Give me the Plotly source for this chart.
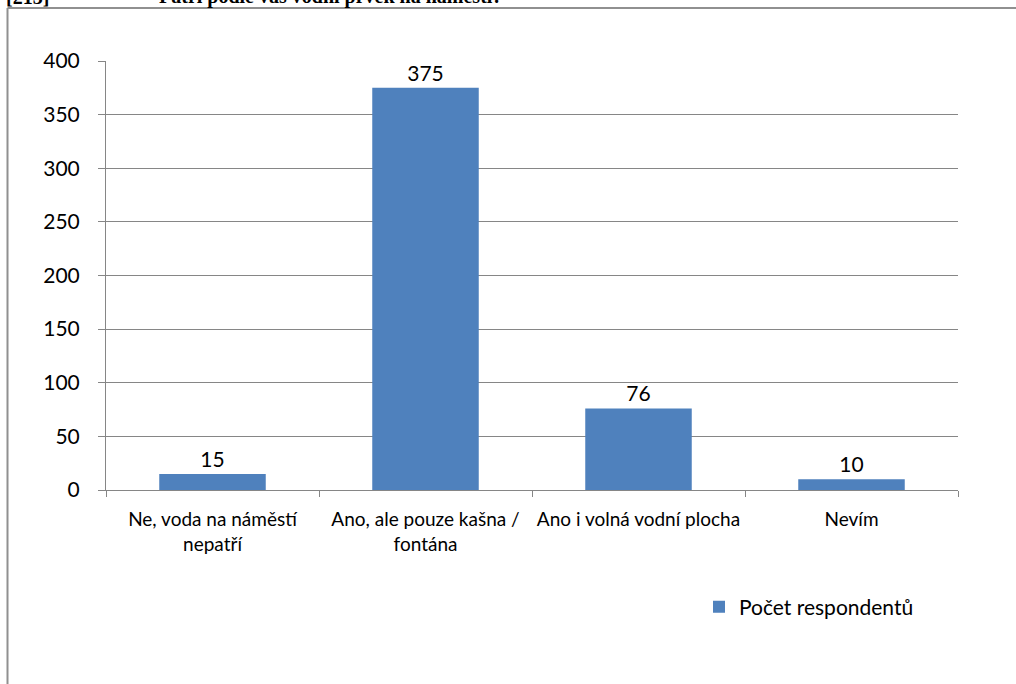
import plotly.graph_objects as go

categories = ["Ne, voda na náměstí nepatří", "Ano, ale pouze kašna / fontána",
              "Ano i volná vodní plocha", "Nevím"]
tick_labels = ["Ne, voda na náměstí<br>nepatří", "Ano, ale pouze kašna /<br>fontána",
               "Ano i volná vodní plocha", "Nevím"]
values = [15, 375, 76, 10]
series_name = "Počet respondentů"
y_ticks = [0, 50, 100, 150, 200, 250, 300, 350, 400]

W, H = 1016, 684
L, R, T, B = 106, 958, 61, 490


def px(x):
    return (x - L) / (R - L)


def py(y):
    return (B - y) / (B - T)


FONT = "Lato"
GRID = "#868686"

fig = go.Figure()
fig.add_trace(go.Bar(
    x=categories, y=values, name=series_name,
    marker=dict(color="#4F81BD", line=dict(width=0)),
    text=[str(v) for v in values], textposition="outside",
    textfont=dict(family=FONT, size=21, color="#000000"),
    cliponaxis=False, showlegend=True,
))

fig.update_layout(
    width=W, height=H,
    margin=dict(l=L, r=W - R, t=T, b=H - B, pad=0),
    paper_bgcolor="white", plot_bgcolor="white",
    bargap=0.5,
    font=dict(family=FONT, color="#000000"),
    showlegend=True,
    legend=dict(x=px(699), y=py(607), xanchor="left", yanchor="middle",
                font=dict(family=FONT, size=21, color="#000000"),
                bgcolor="rgba(0,0,0,0)", itemwidth=30),
    xaxis=dict(
        type="category", range=[-0.5, 3.5],
        tickmode="array", tickvals=categories, ticktext=tick_labels,
        tickson="boundaries", ticks="outside", ticklen=6, tickcolor=GRID, tickwidth=1,
        showline=True, linecolor=GRID, linewidth=1,
        showgrid=False, zeroline=False, ticklabelstandoff=12,
        tickfont=dict(family=FONT, size=19, color="#000000"),
    ),
    yaxis=dict(
        range=[0, 400], tickmode="array", tickvals=y_ticks,
        ticks="outside", ticklen=7, tickcolor=GRID, tickwidth=1,
        showline=True, linecolor=GRID, linewidth=1,
        showgrid=True, gridcolor=GRID, gridwidth=1, zeroline=False,
        ticklabelstandoff=14,
        tickfont=dict(family=FONT, size=21, color="#000000"),
    ),
    shapes=[
        dict(type="line", xref="paper", yref="paper",
             x0=px(7.5), x1=px(1020), y0=py(8), y1=py(8),
             line=dict(color="#909090", width=2)),
        dict(type="line", xref="paper", yref="paper",
             x0=px(7.5), x1=px(7.5), y0=py(8), y1=py(690),
             line=dict(color="#909090", width=2)),
    ],
    annotations=[
        dict(text="<b>[213]</b>", xref="paper", yref="paper",
             x=px(4), y=py(10), xanchor="left", yanchor="bottom",
             showarrow=False, font=dict(family="Liberation Serif", size=20, color="#000000")),
        dict(text="<b>Patří podle vás vodní prvek na náměstí?</b>", xref="paper", yref="paper",
             x=px(157), y=py(10), xanchor="left", yanchor="bottom",
             showarrow=False, font=dict(family="Liberation Serif", size=20, color="#000000")),
    ],
)

fig.write_html("out.html", config={"displayModeBar": False},
               post_script="document.body.style.margin='0';document.body.style.overflow='hidden';")
